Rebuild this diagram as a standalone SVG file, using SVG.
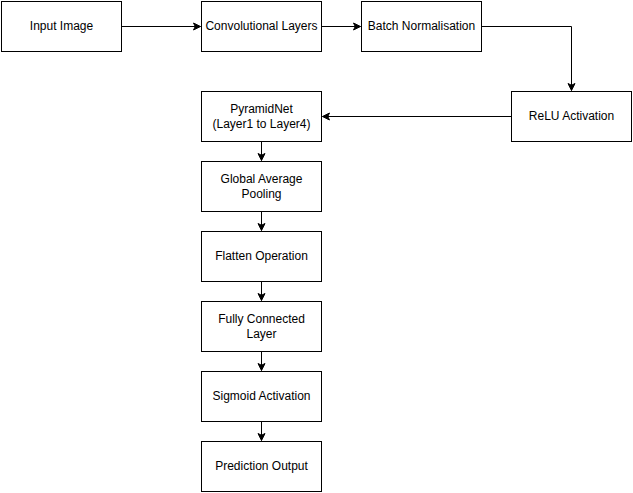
<svg xmlns="http://www.w3.org/2000/svg" width="633" height="493" viewBox="0 0 633 493">
  <style>
    .box rect { fill: #ffffff; stroke: #000000; stroke-width: 1; }
    .box text { font-family: "Liberation Sans", Helvetica, Arial, sans-serif; font-size: 12px; fill: #000000; text-anchor: middle; dominant-baseline: central; }
    .edge { fill: none; stroke: #000000; stroke-width: 1; marker-end: url(#arrow); }
  </style>
  <defs>
    <marker id="arrow" markerUnits="userSpaceOnUse" markerWidth="10" markerHeight="10" viewBox="-8 -5 10 10" refX="0" refY="0" orient="auto" overflow="visible">
      <path d="M0,0 L-7,-3.5 L-5.25,0 L-7,3.5 Z" fill="#000000" stroke="#000000" stroke-width="1"/>
    </marker>
  </defs>
  <rect width="633" height="493" fill="#ffffff"/>
  <g transform="translate(0.5,0.5)">
    <g id="connectors">
      <path class="edge" d="M121,26 L200,26"/>
      <path class="edge" d="M321,26 L360,26"/>
      <path class="edge" d="M481,26 L571,26 L571,90"/>
      <path class="edge" d="M511,116 L322,116"/>
      <path class="edge" d="M261,141 L261,160"/>
      <path class="edge" d="M261,211 L261,230"/>
      <path class="edge" d="M261,281 L261,300"/>
      <path class="edge" d="M261,351 L261,370"/>
      <path class="edge" d="M261,421 L261,440"/>
    </g>
    <g id="input-image" class="box">
      <rect x="1" y="1" width="120" height="50"/>
      <text x="61" y="25">Input Image</text>
    </g>
    <g id="conv-layers" class="box">
      <rect x="201" y="1" width="120" height="50"/>
      <text x="261" y="25">Convolutional Layers</text>
    </g>
    <g id="batch-norm" class="box">
      <rect x="361" y="1" width="120" height="50"/>
      <text x="421" y="25">Batch Normalisation</text>
    </g>
    <g id="relu" class="box">
      <rect x="511" y="91" width="120" height="50"/>
      <text x="571" y="115">ReLU Activation</text>
    </g>
    <g id="pyramidnet" class="box">
      <rect x="201" y="91" width="120" height="50"/>
      <text x="261" y="108">PyramidNet</text>
      <text x="261" y="123">(Layer1 to Layer4)</text>
    </g>
    <g id="global-avg-pool" class="box">
      <rect x="201" y="161" width="120" height="50"/>
      <text x="261" y="178">Global Average</text>
      <text x="261" y="193">Pooling</text>
    </g>
    <g id="flatten" class="box">
      <rect x="201" y="231" width="120" height="50"/>
      <text x="261" y="255">Flatten Operation</text>
    </g>
    <g id="fully-connected" class="box">
      <rect x="201" y="301" width="120" height="50"/>
      <text x="261" y="318">Fully Connected</text>
      <text x="261" y="333">Layer</text>
    </g>
    <g id="sigmoid" class="box">
      <rect x="201" y="371" width="120" height="50"/>
      <text x="261" y="395">Sigmoid Activation</text>
    </g>
    <g id="prediction" class="box">
      <rect x="201" y="441" width="120" height="50"/>
      <text x="261" y="465">Prediction Output</text>
    </g>
  </g>
</svg>
